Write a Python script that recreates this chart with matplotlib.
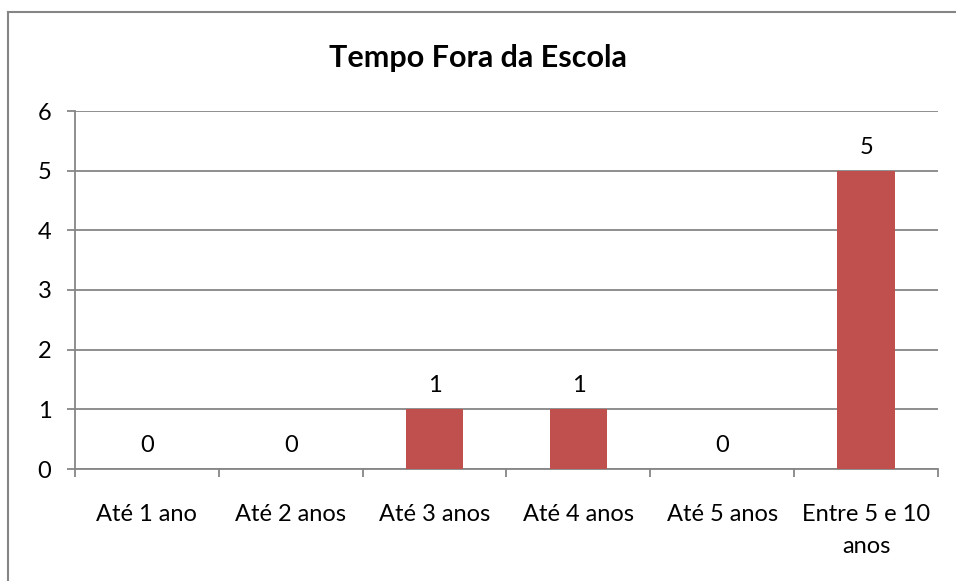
import matplotlib.pyplot as plt
from matplotlib.lines import Line2D
import numpy as np

# data
categories = ["Até 1 ano", "Até 2 anos", "Até 3 anos", "Até 4 anos", "Até 5 anos", "Entre 5 e 10\nanos"]
values = [0, 0, 1, 1, 0, 5]

bar_color = "#C0504D"
grid_color = "#868686"

plt.rcParams["font.family"] = ["Lato", "DejaVu Sans"]

fig = plt.figure(figsize=(9.56, 5.81), dpi=100)
ax = fig.add_axes([75 / 956, 1 - 469 / 581, (938 - 75) / 956, (469 - 111) / 581])

x = np.arange(len(categories))
ax.bar(x, values, width=0.4, color=bar_color, zorder=3)

# data labels
for xi, v in zip(x, values):
    ax.annotate(str(v), (xi, v), xytext=(0, 17), textcoords="offset points",
                ha="center", va="center", fontsize=17)

ax.set_xlim(-0.5, len(categories) - 0.5)
ax.set_ylim(0, 6)
ax.set_yticks(range(0, 7))
ax.set_xticks(x)
ax.set_xticklabels(categories, fontsize=17, linespacing=1.65)
ax.set_xticks(np.arange(-0.5, len(categories)), minor=True)
ax.tick_params(axis="x", which="major", length=0, pad=25)
ax.tick_params(axis="x", which="minor", length=6, width=1.3, color=grid_color)
ax.tick_params(axis="y", length=6, width=1.3, color=grid_color, labelsize=17, pad=11)

ax.grid(axis="y", color=grid_color, linewidth=1.3, zorder=0)
for side in ["top", "right"]:
    ax.spines[side].set_visible(False)
for side in ["left", "bottom"]:
    ax.spines[side].set_color(grid_color)
    ax.spines[side].set_linewidth(1.3)

fig.text(0.5, 1 - 58 / 581, "Tempo Fora da Escola", ha="center", va="center",
         fontsize=22, fontweight="bold")

# chart border (only left and top visible)
fig.add_artist(Line2D([8 / 956, 8 / 956], [0, 1 - 12 / 581], transform=fig.transFigure,
                      color=grid_color, linewidth=1.5))
fig.add_artist(Line2D([8 / 956, 1], [1 - 12 / 581, 1 - 12 / 581], transform=fig.transFigure,
                      color=grid_color, linewidth=1.5))

fig.savefig("out.png", dpi=100)
